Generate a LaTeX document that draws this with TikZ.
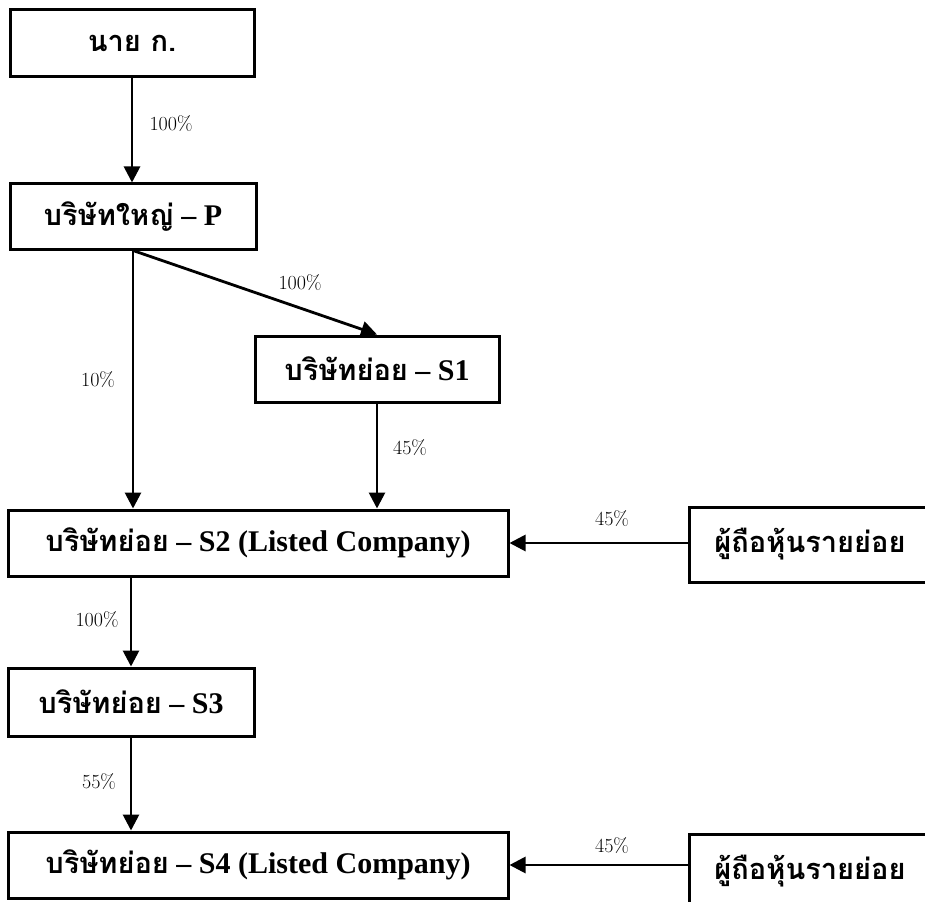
\documentclass[tikz,border=0pt]{standalone}
\usepackage{fontspec}
\usetikzlibrary{arrows.meta}
\newfontfamily\thaifont[Script=Thai]{Loma}
\newfontfamily\latinfont[Ligatures=TeX]{Liberation Serif}
\newcommand\thtext[1]{{\thaifont\bfseries\fontsize{29}{32}\selectfont #1}}
\newcommand\lttext[1]{{\latinfont\bfseries\fontsize{30}{32}\selectfont #1}}

\begin{document}
\begin{tikzpicture}[x=1pt,y=-1pt,
  entity/.style={draw, line width=3pt, inner sep=0pt},
  link/.style={line width=2.8pt, -{Triangle[length=16pt,width=16pt]}},
  share/.style={font=\fontsize{20}{22}\selectfont, inner sep=0pt}]
\useasboundingbox (0,0) rectangle (925,901);
\clip (0,0) rectangle (925,901);

% ownership entities
\node[entity, minimum width=244pt, minimum height=67pt] (a)  at (132,43.5) {\thtext{นาย ก.}};
\node[entity, minimum width=246pt, minimum height=65pt] (p)  at (133,216.5) {\thtext{บริษัทใหญ่}\lttext{ \textendash{} P}};
\node[entity, minimum width=244pt, minimum height=66pt] (s1) at (377,369) {\thtext{บริษัทย่อย}\lttext{ \textendash{} S1}};
\node[entity, minimum width=500pt, minimum height=66pt] (s2) at (258,543) {\thtext{บริษัทย่อย}\lttext{ \textendash{} S2 (Listed Company)}};
\node[entity, minimum width=242pt, minimum height=75pt] (r1) at (810,544.5) {\thtext{ผู้ถือหุ้นรายย่อย}};
\node[entity, minimum width=246pt, minimum height=68pt] (s3) at (131,702) {\thtext{บริษัทย่อย}\lttext{ \textendash{} S3}};
\node[entity, minimum width=500pt, minimum height=66pt] (s4) at (258,865) {\thtext{บริษัทย่อย}\lttext{ \textendash{} S4 (Listed Company)}};
\node[entity, minimum width=242pt, minimum height=75pt] (r2) at (810,871.5) {\thtext{ผู้ถือหุ้นรายย่อย}};

% holdings
\draw[link] (a.south) -- (a.south |- p.north);
\draw[link] (p.south) -- (p.south |- s2.north);
\draw[link] (p.south) -- (s1.north);
\draw[link] (s1.south) -- (s1.south |- s2.north);
\draw[link] (s2.east -| r1.west) -- (s2.east);
\draw[link] (s3.north |- s2.south) -- (s3.north);
\draw[link] (s3.south) -- (s3.south |- s4.north);
\draw[link] (s4.east -| r2.west) -- (s4.east);

% percentages
\node[share] (l1) at (171,124) {100\%};
\node[share] (l2) at (300,283) {100\%};
\node[share] (l3) at (98,380) {10\%};
\node[share] (l4) at (410,448) {45\%};
\node[share] (l5) at (612,519) {45\%};
\node[share] (l6) at (97,620) {100\%};
\node[share] (l7) at (99,782) {55\%};
\node[share] (l8) at (612,846) {45\%};
\end{tikzpicture}
\end{document}
